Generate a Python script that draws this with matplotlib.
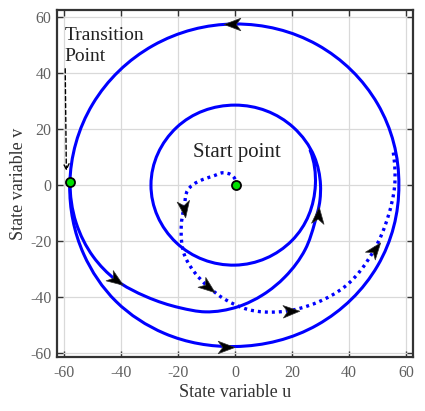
import numpy as np
import matplotlib
matplotlib.use("Agg")
import matplotlib.pyplot as plt
from matplotlib.path import Path
from matplotlib.patches import PathPatch
from matplotlib.markers import MarkerStyle
from matplotlib.transforms import Affine2D

# ---- data (polar: angle in degrees, radius) ----
outer_ang = [0, 30, 60, 90, 120, 150, 180, 205, 225, 245, 270, 300, 330, 360]
outer_rad = [57.5, 57.8, 57.8, 57.5, 57.5, 57.7, 58.0, 58.6, 59.0, 58.6, 57.8, 57.8, 57.8, 57.5]

inner_ang = [178.8, 193.7, 207.3, 219.1, 232.0, 246.3, 257.0, 271.3, 284.0, 298.0, 316.7,
             334.0, 349.7, 360.0, 380.0, 405.0, 450.0, 495.0, 540.0, 585.0, 630.0, 675.0,
             720.0, 745.0]
inner_rad = [58.0, 57.4, 56.0, 53.9, 50.7, 48.0, 46.6, 43.6, 40.5, 37.3, 33.8,
             31.1, 30.3, 30.0, 29.6, 29.0, 28.5, 29.0, 29.5, 29.2, 28.7, 28.2,
             28.2, 29.1]

dot_ang = [90, 134, 161, 186, 204.6, 218.4, 235.7, 246, 255.4, 265.1, 275.9, 289.4,
           304.6, 316.6, 334.9, 348, 359.4, 373]
dot_rad = [2.0, 6.0, 8.9, 16.6, 19.7, 24.1, 31.1, 34.5, 37.6, 41.1, 44.8, 48.1,
           51.0, 53.0, 54.1, 54.9, 56.0, 56.8]

# arrows: u, v, direction (deg)
arrow_u = [-1.0, -41.8, -3.0, 29.0, -17.9, -9.5, 19.7, 49.0]
arrow_v = [57.5, -34.0, -57.8, -10.7, -8.5, -36.4, -45.0, -23.0]
arrow_dir = [180, -35, 0, 85, -82, -38, 2, 52]

start_pt = (0.3, 0.0)
transition_pt = (-58.0, 1.1)

xticks = [-60, -40, -20, 0, 20, 40, 60]
yticks = [-60, -40, -20, 0, 20, 40, 60]

BLUE = "#0000ff"


def polar_bezier(ang, rad):
    """Cubic Bezier path through the read polar points (library draws the curve)."""
    th = np.deg2rad(np.asarray(ang, float))
    r = np.asarray(rad, float)
    n = len(th)
    dr = np.gradient(r, th)
    P = np.column_stack([r * np.cos(th), r * np.sin(th)])
    T = np.column_stack([dr * np.cos(th) - r * np.sin(th),
                         dr * np.sin(th) + r * np.cos(th)])
    verts = [P[0]]
    codes = [Path.MOVETO]
    for i in range(n - 1):
        d = th[i + 1] - th[i]
        k = 4.0 / 3.0 * np.tan(d / 4.0)
        verts += [P[i] + k * T[i], P[i + 1] - k * T[i + 1], P[i + 1]]
        codes += [Path.CURVE4] * 3
    return Path(verts, codes)


plt.rcParams['font.family'] = ['Liberation Serif', 'DejaVu Serif']
fig = plt.figure(figsize=(4.25, 4.11), dpi=100)
ax = fig.add_axes([0.134, 0.131, 0.838, 0.844])

ax.set_xlim(-62.5, 62.5)
ax.set_ylim(-61.6, 62.4)

ax.grid(True, color="#d9d9d9", lw=0.9, zorder=0)
ax.set_axisbelow(True)

ax.add_patch(PathPatch(polar_bezier(outer_ang, outer_rad), fill=False,
                       ec=BLUE, lw=2.2, zorder=3))
ax.add_patch(PathPatch(polar_bezier(inner_ang, inner_rad), fill=False, ec=BLUE,
                       lw=2.2, zorder=3, capstyle='round'))
ax.add_patch(PathPatch(polar_bezier(dot_ang, dot_rad), fill=False, ec=BLUE, lw=2.4,
                       zorder=3, linestyle=(0, (0.9, 1.2))))

# arrow heads
head = Path([(1.0, 0.0), (-1.0, 0.75), (-0.45, 0.0), (-1.0, -0.75), (1.0, 0.0)],
            [Path.MOVETO, Path.LINETO, Path.LINETO, Path.LINETO, Path.CLOSEPOLY])
for u, v, d in zip(arrow_u, arrow_v, arrow_dir):
    m = MarkerStyle(head, transform=Affine2D().rotate_deg(d))
    ax.plot([u], [v], marker=m, ms=12, mfc="black", mec="#333333", mew=0.5,
            ls="none", zorder=5)

# points
ax.plot(*start_pt, "o", ms=6.5, mfc="#00e000", mec="black", mew=1.3, zorder=6)
ax.plot(*transition_pt, "o", ms=6.5, mfc="#00e000", mec="black", mew=1.3, zorder=6)

# annotations
ax.annotate("", xy=(-59.2, 5.0), xytext=(-59.6, 41.5),
            arrowprops=dict(arrowstyle="->", color="black", lw=1.0,
                            linestyle=(0, (3, 2)), shrinkA=0, shrinkB=0,
                            mutation_scale=10), zorder=4)
ax.text(-59.8, 56.5, "Transition\nPoint", fontsize=14, color="#222222",
        ha="left", va="top", linespacing=1.3)
ax.text(-14.8, 10.0, "Start point", fontsize=15, color="#222222",
        ha="left", va="baseline")

ax.set_xticks(xticks)
ax.set_yticks(yticks)
ax.set_xticklabels([str(t) for t in xticks])
ax.set_yticklabels([str(t) for t in yticks])
ax.tick_params(direction="in", length=4, width=1.0, colors="#333333",
               labelcolor="#606060", labelsize=11.5, top=True, right=True)
ax.tick_params(axis="x", pad=6)
ax.tick_params(axis="y", pad=4)
for s in ax.spines.values():
    s.set_color("#333333")
    s.set_linewidth(1.6)

ax.set_xlabel("State variable u", fontsize=13, color="#333333", labelpad=2)
ax.set_ylabel("State variable v", fontsize=13, color="#333333", labelpad=2)

fig.savefig("out.png", dpi=100)
